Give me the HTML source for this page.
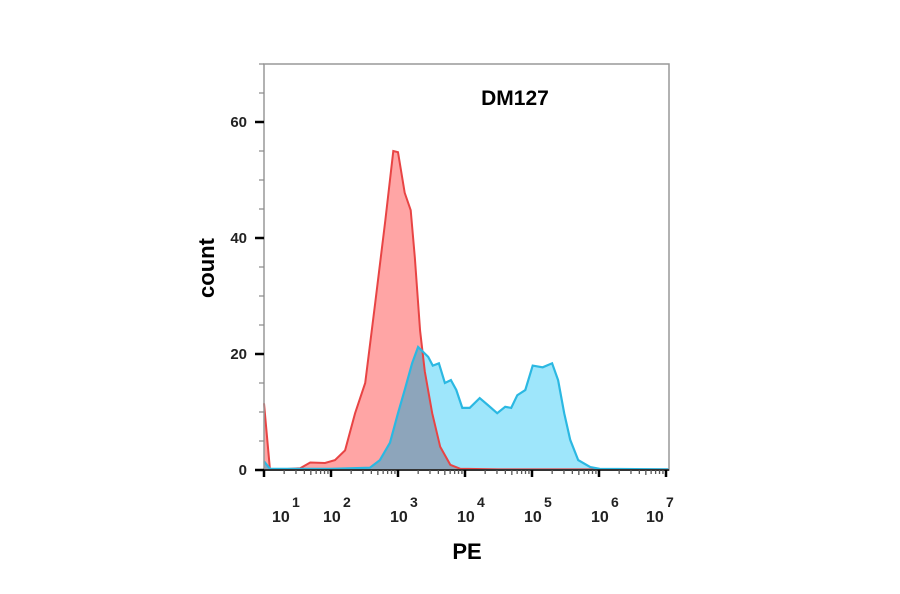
<!DOCTYPE html>
<html><head><meta charset="utf-8"><style>
body{margin:0;background:#fff;}
svg{display:block;font-family:"Liberation Sans",Arial,sans-serif;font-weight:bold;}
</style></head><body>
<svg id="chart" width="900" height="594" viewBox="0 0 900 594">
<defs><clipPath id="redClip"><path id="redClipPath"/></clipPath></defs>
<g id="plot"></g>
<text x="515" y="105" font-size="21" text-anchor="middle" fill="#000">DM127</text>
<text x="467" y="559" font-size="22" text-anchor="middle" fill="#000">PE</text>
<text transform="translate(214,268) rotate(-90)" font-size="22" text-anchor="middle" fill="#000">count</text>
</svg>
<script>
const yTicks=[0,20,40,60];
const xDecades=[1,2,3,4,5,6,7];
const redLog=[1.0,1.09,1.54,1.69,1.91,2.06,2.21,2.36,2.51,2.66,2.81,2.93,3.0,3.1,3.19,3.25,3.33,3.4,3.51,3.63,3.78,3.93,4.5,5.5,6.0,7.04];
const redCount=[11.5,0,0.3,1.3,1.2,1.7,3.4,9.8,15,28.8,43,55,54.8,47.8,44.8,36.7,24,17,9.8,4,0.9,0.2,0.1,0.1,0.1,0.1];
const blueLog=[1.0,1.09,2.0,2.58,2.73,2.88,3.0,3.1,3.21,3.3,3.45,3.52,3.61,3.7,3.79,3.87,3.96,4.07,4.22,4.34,4.48,4.6,4.69,4.78,4.9,5.01,5.16,5.3,5.39,5.48,5.57,5.69,5.87,6.01,7.04];
const blueCount=[1.5,0.2,0.2,0.4,1.7,4.7,9.8,13.8,18.4,21.2,19.5,18,18.4,15,15.5,13.8,10.7,10.7,12.4,11.2,9.8,10.9,10.7,12.9,13.8,18,17.7,18.4,15.5,9.8,5.2,1.7,0.5,0.2,0.1];

const L=264,R=669,T=64,B=470;
const X=v=>398+(v-3)*67;
const Y=c=>B-c*5.8;
const NS='http://www.w3.org/2000/svg';
const plot=document.getElementById('plot');
function mk(tag,attrs,parent){const e=document.createElementNS(NS,tag);for(const k in attrs)e.setAttribute(k,attrs[k]);(parent||plot).appendChild(e);return e;}
function areaPath(xs,ys){let d='M'+X(xs[0]).toFixed(1)+','+B;xs.forEach((v,i)=>{d+=' L'+Math.min(R,X(v)).toFixed(1)+','+Y(ys[i]).toFixed(1);});d+=' L'+Math.min(R,X(xs[xs.length-1])).toFixed(1)+','+B+' Z';return d;}
function linePath(xs,ys){return xs.map((v,i)=>(i?'L':'M')+Math.min(R,X(v)).toFixed(1)+','+Y(ys[i]).toFixed(1)).join(' ');}

const redArea=areaPath(redLog,redCount), blueArea=areaPath(blueLog,blueCount);
document.getElementById('redClipPath').setAttribute('d',redArea);
const rf=mk('path',{d:redArea,fill:'#ffa5a5'});


const bf=mk('path',{d:blueArea,fill:'#9ee6fb'});


const of=mk('path',{d:blueArea,fill:'#8da5bb','clip-path':'url(#redClip)'});


const rl=mk('path',{d:linePath(redLog,redCount),fill:'none',stroke:'#e84444','stroke-width':2});


const bl=mk('path',{d:linePath(blueLog,blueCount),fill:'none',stroke:'#2bb8e2','stroke-width':2.2});



const frame=mk('rect',{x:L,y:T,width:R-L,height:B-T,fill:'none',stroke:'#999','stroke-width':1.5});


const ax=mk('line',{x1:L,y1:B,x2:R,y2:B,stroke:'#333','stroke-width':2});



for(let c=0;c<=70;c+=5){
  const major=yTicks.includes(c);
  const t=mk('line',{x1:major?L-9:L-5,x2:L,y1:Y(c),y2:Y(c),stroke:major?'#000':'#888','stroke-width':major?2.5:1.2});
  
  
}
yTicks.forEach(c=>{
  const t=mk('text',{x:L-17,y:Y(c)+5,'font-size':15,'text-anchor':'end',fill:'#222'});
  t.textContent=c;
  
  
});
const labelShift={1:'272',7:'646'};
xDecades.forEach((d,i)=>{
  const t=mk('line',{x1:X(d),x2:X(d),y1:B,y2:B+7,stroke:'#000','stroke-width':2.5});
  
  
  if(i<xDecades.length-1){for(let m=2;m<=9;m++){const xm=X(d+Math.log10(m));
    const mt=mk('line',{x1:xm,x2:xm,y1:B,y2:B+(m==5?5:4),stroke:'#555','stroke-width':1.3});
    
    }}
  const sx=labelShift[d]?+labelShift[d]:X(d)-8;
  const lab=mk('text',{x:sx,y:522,'font-size':16,'text-anchor':'start',fill:'#222'});
  lab.textContent='10';
  
  
  const sup=mk('text',{x:sx+20,y:507,'font-size':14,'text-anchor':'start',fill:'#222'});
  sup.textContent=d;
  
  
});
</script>
</body></html>
